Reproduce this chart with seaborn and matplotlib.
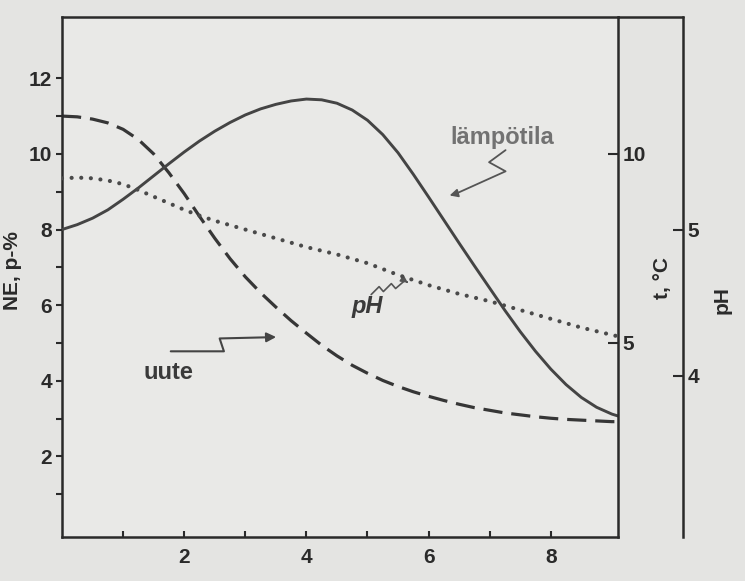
import numpy as np
import pandas as pd
import matplotlib
matplotlib.use("Agg")
import matplotlib.pyplot as plt
import seaborn as sns
from matplotlib.ticker import FixedLocator
from matplotlib.lines import Line2D

# ---- data ----
time_h = [0, 0.25, 0.5, 0.75, 1.0, 1.25, 1.5, 1.75, 2.0, 2.25, 2.5, 2.75,
          3.0, 3.25, 3.5, 3.75, 4.0, 4.25, 4.5, 4.75, 5.0, 5.25, 5.5, 5.75,
          6.0, 6.25, 6.5, 6.75, 7.0, 7.25, 7.5, 7.75, 8.0, 8.25, 8.5, 8.75,
          9.0, 9.1]
uute = [11.0, 10.98, 10.92, 10.82, 10.65, 10.38, 10.0, 9.5, 8.95, 8.35, 7.77, 7.23,
        6.75, 6.33, 5.95, 5.59, 5.26, 4.94, 4.66, 4.41, 4.2, 4.01, 3.85, 3.71,
        3.59, 3.48, 3.38, 3.29, 3.22, 3.15, 3.1, 3.05, 3.01, 2.98, 2.96, 2.94,
        2.92, 2.92]                                               # NE, p-%
lampotila = [8.0, 8.13, 8.3, 8.52, 8.8, 9.1, 9.42, 9.74, 10.05, 10.34, 10.6, 10.83,
             11.03, 11.19, 11.31, 11.4, 11.45, 11.43, 11.34, 11.16, 10.89, 10.51,
             10.03, 9.46, 8.86, 8.25, 7.64, 7.04, 6.45, 5.86, 5.30, 4.78, 4.31,
             3.90, 3.56, 3.30, 3.12, 3.07]                         # t, degC
ph = [5.35, 5.355, 5.35, 5.335, 5.31, 5.27, 5.225, 5.18, 5.135, 5.095, 5.06, 5.03,
      5.0, 4.97, 4.94, 4.91, 4.88, 4.855, 4.83, 4.80, 4.77, 4.73, 4.69, 4.655,
      4.62, 4.59, 4.56, 4.535, 4.51, 4.48, 4.45, 4.42, 4.39, 4.36, 4.33, 4.305,
      4.28, 4.27]                                                 # pH

x_major = [2, 4, 6, 8]
x_minor = [1, 3, 5, 7]
y_major = [2, 4, 6, 8, 10, 12]
y_minor = [1, 3, 5, 7, 9, 11]
t_ticks = [5, 10]
ph_ticks = [4, 5]

BG = "#e4e4e2"
PLOT_BG = "#e9e9e7"
INK = "#2a2a2a"

sns.set_theme(style="ticks")
plt.rcParams["font.family"] = ["Liberation Sans", "DejaVu Sans"]
plt.rcParams["font.weight"] = "bold"

W, H = 745, 581
fig = plt.figure(figsize=(W / 100, H / 100), dpi=100, facecolor=BG)
L, R, B, T = 62, 618, 537, 17
ax = fig.add_axes([L / W, 1 - B / H, (R - L) / W, (B - T) / H])
ax.set_facecolor(PLOT_BG)
ax_t = ax.twinx()
ax_ph = ax.twinx()
ax_ph.spines["right"].set_position(("axes", (683 - L) / (R - L)))

df = pd.DataFrame({"time": time_h, "uute": uute, "temp": lampotila, "ph": ph})

sns.lineplot(data=df, x="time", y="uute", ax=ax, color="#363636", lw=2.3,
             linestyle=(0, (6, 2.8)), legend=False)
sns.lineplot(data=df, x="time", y="temp", ax=ax_t, color="#444444", lw=2.1,
             legend=False)
sns.lineplot(data=df, x="time", y="ph", ax=ax_ph, color="#4a4a4a", lw=3.0,
             linestyle=(0, (0.01, 2.3)), dash_capstyle="round", legend=False)

ylo, yhi = -0.13, 13.62
ax.set_xlim(0, 9.1)
ax.set_ylim(ylo, yhi)
ax_t.set_ylim(ylo, yhi)
# pH scale: pH 5 <-> 8.0, pH 4 <-> 4.13 on the main scale
k = 3.87
ax_ph.set_ylim(5 + (ylo - 8.0) / k, 5 + (yhi - 8.0) / k)

# spines
for a in (ax, ax_t, ax_ph):
    for s in a.spines.values():
        s.set_color(INK)
        s.set_linewidth(1.8)
for s in ("left", "top", "bottom"):
    ax_t.spines[s].set_visible(False)
    ax_ph.spines[s].set_visible(False)
ax.spines["right"].set_visible(False)

# ticks
ax.xaxis.set_major_locator(FixedLocator(x_major))
ax.xaxis.set_minor_locator(FixedLocator(x_minor))
ax.yaxis.set_major_locator(FixedLocator(y_major))
ax.yaxis.set_minor_locator(FixedLocator(y_minor))
ax.tick_params(axis="x", which="both", direction="in", bottom=True, top=False,
               width=1.5, color=INK, length=4)
ax.tick_params(axis="x", which="major", pad=8, labelsize=15, labelcolor=INK)
ax.tick_params(axis="y", which="both", direction="out", left=True, right=False,
               width=1.5, color=INK, length=4)
ax.tick_params(axis="y", which="major", pad=3, labelsize=15, labelcolor=INK)

ax_t.yaxis.set_major_locator(FixedLocator(t_ticks))
ax_t.tick_params(axis="y", direction="in", right=True, length=7, width=1.5,
                 pad=3, labelsize=15, labelcolor=INK, color=INK)
ax_ph.yaxis.set_major_locator(FixedLocator(ph_ticks))
ax_ph.tick_params(axis="y", direction="in", right=True, length=7, width=1.5,
                  pad=3, labelsize=15, labelcolor=INK, color=INK)

ax.set_xlabel("")
ax.set_ylabel("NE, p-%", fontsize=15, color=INK, fontweight="bold")
ax.yaxis.set_label_coords(-0.072, 0.513)
ax_t.set_ylabel("t, °C", fontsize=15, color=INK, rotation=90, fontweight="bold")
ax_t.yaxis.set_label_coords(1.063, 0.498)
ax_ph.set_ylabel("pH", fontsize=15, color=INK, rotation=90, fontweight="bold")
ax_ph.yaxis.set_label_coords(1.171, 0.456)

# extend the top frame line over to the pH spine
fig.add_artist(Line2D([R / W, 683 / W], [1 - T / H, 1 - T / H], color=INK, lw=1.8))

# ---- annotations ----
ax.text(7.2, 10.44, "lämpötila", fontsize=17, fontweight="bold", color="#727272",
        ha="center", va="center")
ax.plot([7.26, 6.99, 7.26, 6.45], [10.1, 9.78, 9.54, 8.95], color="#555555", lw=1.3)
ax.annotate("", xy=(6.3, 8.88), xytext=(6.45, 8.95),
            arrowprops=dict(arrowstyle="-|>", color="#555555", lw=1.3,
                            mutation_scale=12))

ax.text(1.75, 4.23, "uute", fontsize=17, fontweight="bold", color="#3a3a3a",
        ha="center", va="center")
ax.plot([1.78, 2.65, 2.58, 3.35], [4.78, 4.78, 5.12, 5.15], color="#444444", lw=1.5)
ax.annotate("", xy=(3.55, 5.16), xytext=(3.35, 5.15),
            arrowprops=dict(arrowstyle="-|>", color="#444444", lw=1.5,
                            mutation_scale=14))

ax.text(5.0, 5.97, "pH", fontsize=17, fontweight="bold", fontstyle="italic",
        color="#3a3a3a", ha="center", va="center")
ax.plot([5.06, 5.19, 5.26, 5.39, 5.46, 5.61], [6.28, 6.49, 6.36, 6.57, 6.44, 6.65],
        color="#555555", lw=1.2)
ax.annotate("", xy=(5.70, 6.55), xytext=(5.61, 6.65),
            arrowprops=dict(arrowstyle="-|>", color="#555555", lw=1.2,
                            mutation_scale=10))

fig.savefig("out.png", dpi=100, facecolor=BG)
